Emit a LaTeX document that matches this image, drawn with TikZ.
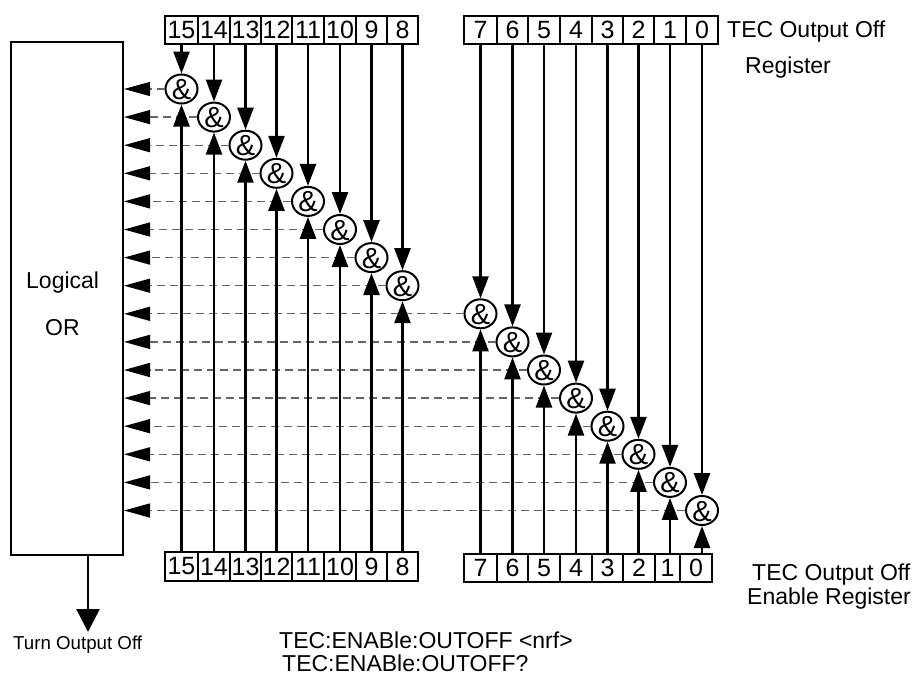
\documentclass[tikz,border=0pt]{standalone}
\usepackage{fontspec}
\setmainfont{Liberation Sans}
\usetikzlibrary{arrows.meta,shapes.geometric}
\newcommand{\gatesym}{\makebox[0pt]{\raisebox{-10.5pt}[0pt][0pt]{\&}}}
\begin{document}
\begin{tikzpicture}[x=1pt,y=-1pt,
  cell/.style={draw, line width=1.8pt, inner sep=0pt, font=\fontsize{25}{25}\selectfont},
  gate/.style={ellipse, draw, fill=white, line width=2pt, minimum width=32pt, minimum height=29pt, inner sep=0pt, font=\fontsize{29}{29}\selectfont},
  varr/.style={line width=2.5pt, -{Triangle[length=22pt,width=16pt]}},
  dline/.style={draw=black!60, line width=1.3pt, dash pattern=on 8pt off 5pt, -{Triangle[length=26pt,width=14pt,color=black]}},
  lbl/.style={inner sep=0pt, anchor=base west, font=\fontsize{23}{23}\selectfont},
  smalllbl/.style={inner sep=0pt, anchor=base west, font=\fontsize{18.7}{18.7}\selectfont},
  orbox/.style={draw, line width=2pt, inner sep=0pt, minimum width=112pt, minimum height=513pt}]
\useasboundingbox (0,0) rectangle (917,683);
% Logical OR box
\node[orbox] (or) at (67,298.5) {};
\node[lbl] (lg) at (26,288) {Logical};
\node[lbl] (orl) at (45,335) {OR};
% top register cells and gates
\foreach \b/\l/\r in {15/165/198,14/198/230,13/230/261,12/261/292,11/292/324,10/324/356,9/356/387,8/387/418,7/464/497,6/497/528,5/528/560,4/560/592,3/592/623,2/623/654,1/654/686,0/686/718}{
  \node[cell, minimum width={(\r-\l)*1pt}, minimum height=28pt] (t\b) at ({(\l+\r)/2},30) {\b};
  \node[gate] (g\b) at ({(\l+\r)/2},{89+28.1*(15-\b)}) {\gatesym};
}
% bottom register cells
\foreach \b/\l/\r in {15/165/198,14/198/230,13/230/261,12/261/292,11/292/324,10/324/356,9/356/387,8/387/418}{
  \node[cell, minimum width={(\r-\l)*1pt}, minimum height=29pt] (b\b) at ({(\l+\r)/2},566.5) {\b};
}
\foreach \b/\l/\r in {7/464/497,6/497/528,5/528/560,4/560/592,3/592/623,2/623/655,1/655/680,0/680/712}{
  \node[cell, minimum width={(\r-\l)*1pt}, minimum height=28pt] (b\b) at ({(\l+\r)/2},568) {\b};
}
% connectors
\foreach \b in {0,...,15}{
  \draw[dline] (g\b.west) -- (g\b.west -| or.east);
  \draw[varr] (g\b.north |- t\b.south) -- (g\b.north);
  \draw[varr] (g\b.south |- b\b.north) -- (g\b.south);
}
% output
\coordinate (oend) at (88,632);
\draw[line width=2.5pt, -{Triangle[length=23pt,width=23pt]}] (oend |- or.south) -- (oend);
\node[smalllbl] (turn) at (13,649) {Turn Output Off};
% labels
\node[lbl] (r1) at (727,37) {TEC Output Off};
\node[lbl] (r2) at (745,73) {Register};
\node[lbl] (e1) at (752,580) {TEC Output Off};
\node[lbl] (e2) at (747,604) {Enable Register};
\node[lbl] (c1) at (279,648) {TEC:ENABle:OUTOFF <nrf>};
\node[lbl] (c2) at (282,671) {TEC:ENABle:OUTOFF?};
\end{tikzpicture}
\end{document}
